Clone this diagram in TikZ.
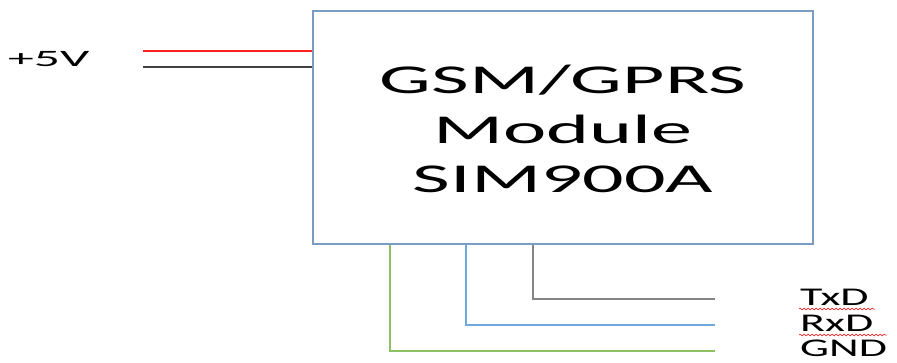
\documentclass[tikz,border=0pt]{standalone}
\usepackage{fontspec}
\setmainfont{Carlito}
\usetikzlibrary{decorations.pathmorphing}
\definecolor{boxc}{HTML}{7B9CC2}
\definecolor{gndc}{HTML}{8DC063}
\definecolor{rxc}{HTML}{6FA8DC}
\definecolor{txc}{HTML}{858585}
\definecolor{blk}{HTML}{404040}
\definecolor{pwr}{HTML}{FF2020}
\tikzset{
  wire/.style={line width=1.4pt},
  big/.style={anchor=base, inner sep=0pt, font=\fontsize{41}{49}\selectfont},
  lbl/.style={anchor=base west, inner sep=0pt, font=\fontsize{25.5}{30}\selectfont},
  squig/.style={draw=red, line width=0.5pt, decorate, decoration={snake, amplitude=0.9pt, segment length=4pt}}
}
\newcommand{\wideTxt}[2][2.0]{\scalebox{#1}[1]{#2}}
\begin{document}
\begin{tikzpicture}[x=1pt,y=-1pt]
\useasboundingbox (0,0) rectangle (897,362);
\node[draw=boxc, line width=2pt, minimum width=500pt, minimum height=233pt, inner sep=0pt] (mod) at (563,127.5) {};
\node[big] (t1) at (563,93) {\wideTxt[2.0]{GSM/GPRS}};
\node[big] (t2) at (563,143) {\wideTxt[2.0]{Module}};
\node[big] (t3) at (563,192) {\wideTxt[2.0]{SIM900A}};
\node[anchor=base west, inner sep=0pt, font=\fontsize{23.5}{28}\selectfont] (v5) at (8,66.5) {\wideTxt[2.2]{+5V}};
\coordinate (r1) at (143,51);
\coordinate (b1) at (143,67);
\draw[wire, pwr] (r1) -- (r1 -| mod.west);
\draw[wire, blk] (b1) -- (b1 -| mod.west);
\coordinate (tB) at (533,299);
\coordinate (tE) at (715,299);
\coordinate (rB) at (466,325);
\coordinate (rE) at (715,325);
\coordinate (gB) at (390,351);
\coordinate (gE) at (715,351);
\draw[wire, txc] (tB |- mod.south) -- (tB) -- (tE);
\draw[wire, rxc] (rB |- mod.south) -- (rB) -- (rE);
\draw[wire, gndc] (gB |- mod.south) -- (gB) -- (gE);
\node[lbl] (tx) at (800,305) {\wideTxt[1.8]{TxD}};
\node[lbl] (rx) at (800,331) {\wideTxt[1.8]{RxD}};
\node[lbl] (gnd) at (800,356.5) {\wideTxt[1.8]{GND}};
\coordinate (s1) at (799,309);
\coordinate (s2) at (799,335);
\draw[squig] (s1) -- ++(76,0);
\draw[squig] (s2) -- ++(88,0);
\end{tikzpicture}
\end{document}
